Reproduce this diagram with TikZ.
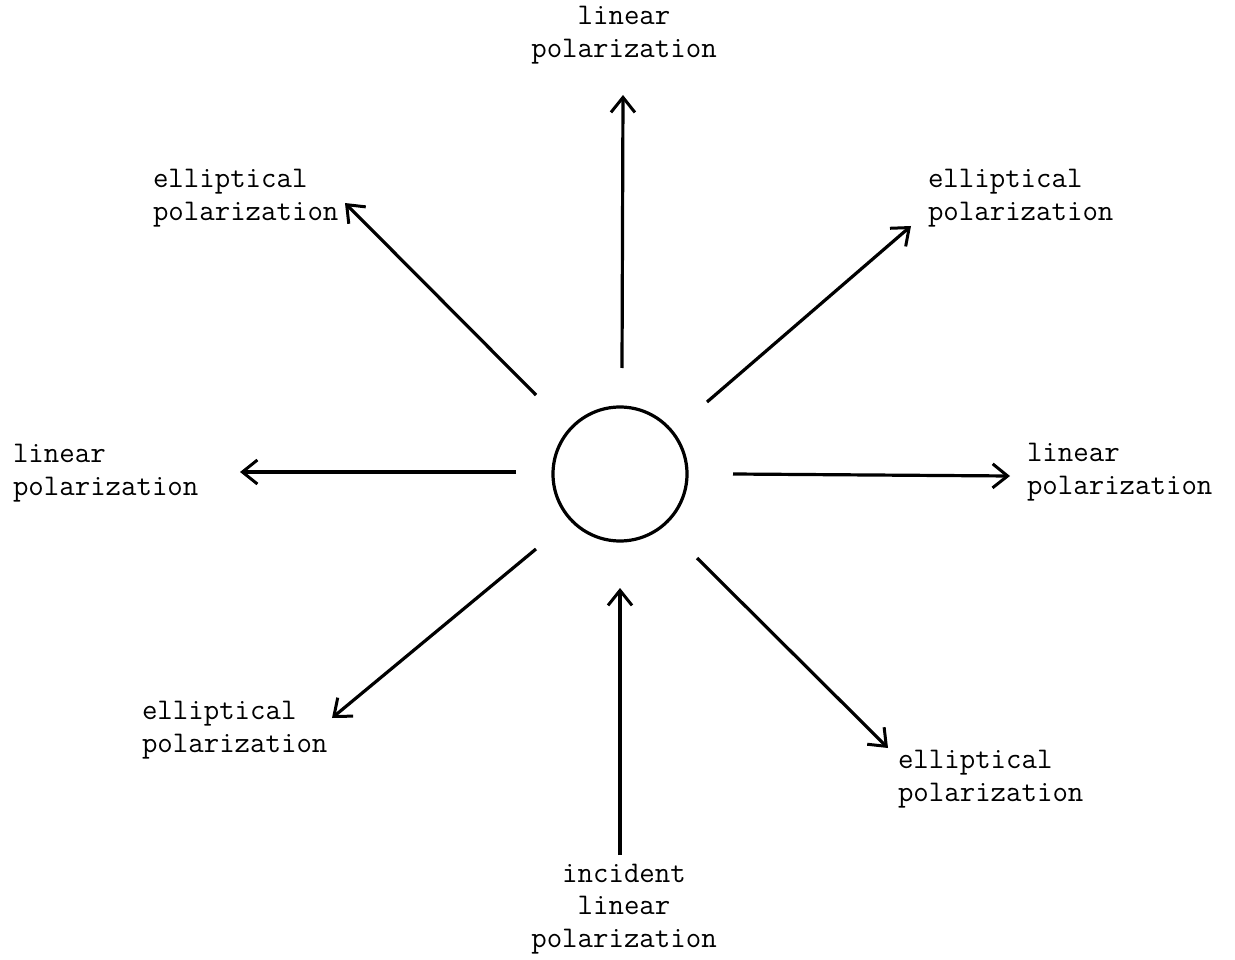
\documentclass[tikz,border=0pt]{standalone}
\usepackage{fontspec}
\usetikzlibrary{arrows.meta}
\tikzset{
  lbl/.style={font=\ttfamily\fontsize{30}{32.5}\selectfont, inner sep=0pt, outer sep=0pt},
  lblL/.style={lbl, align=left, anchor=west},
  lblC/.style={lbl, align=center, anchor=center},
  ray/.style={line width=3.2pt, -{Straight Barb[length=15pt, width=24pt, line width=3pt]}},
  ball/.style={circle, draw, line width=3.2pt, minimum size=134pt, inner sep=0pt}
}
\begin{document}
\begin{tikzpicture}[x=1pt,y=-1pt]
\useasboundingbox (0,0) rectangle (1235,960);
\node[ball] (c) at (620,474) {};
% labels
\node[lblC] (top) at (624,35) {linear\\polarization};
\node[lblL] (ul) at (153,198) {elliptical\\polarization};
\node[lblL] (ur) at (928,198) {elliptical\\polarization};
\node[lblL] (l) at (13,473) {linear\\polarization};
\node[lblL] (r) at (1027,472) {linear\\polarization};
\node[lblL] (ll) at (142,730) {elliptical\\polarization};
\node[lblL] (lr) at (898,779) {elliptical\\polarization};
\node[lblC] (bot) at (624,909) {incident\\linear\\polarization};
% arrow ends
\coordinate (s1) at (622,368); \coordinate (e1) at (623,95);
\coordinate (s2) at (707,402); \coordinate (e2) at (911,226);
\coordinate (s3) at (733,474); \coordinate (e3) at (1010,476);
\coordinate (s4) at (697,558); \coordinate (e4) at (888,748);
\coordinate (s5) at (620,855); \coordinate (e5) at (620,588);
\coordinate (s6) at (536,549); \coordinate (e6) at (332,718);
\coordinate (s7) at (516,472); \coordinate (e7) at (240,472);
\coordinate (s8) at (536,395); \coordinate (e8) at (345,203);
\draw[ray] (s1) -- (e1);
\draw[ray] (s2) -- (e2);
\draw[ray] (s3) -- (e3);
\draw[ray] (s4) -- (e4);
\draw[ray] (s5) -- (e5);
\draw[ray] (s6) -- (e6);
\draw[ray] (s7) -- (e7);
\draw[ray] (s8) -- (e8);
\end{tikzpicture}
\end{document}
